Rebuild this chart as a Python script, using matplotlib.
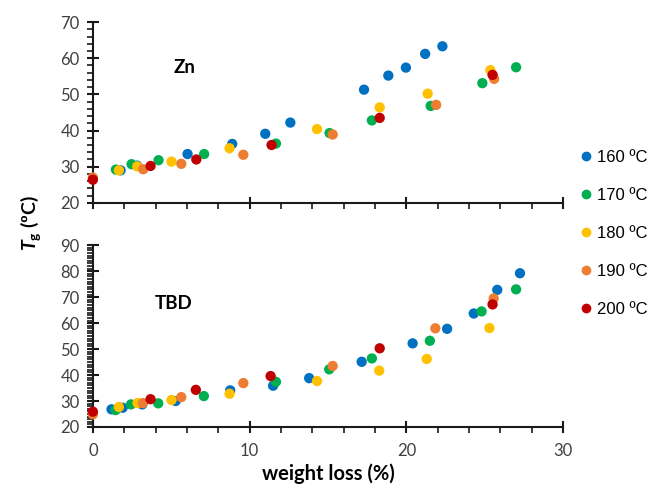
import numpy as np
import matplotlib.pyplot as plt
from matplotlib.ticker import MultipleLocator
from matplotlib.lines import Line2D

plt.rcParams['font.family'] = ['Lato', 'DejaVu Sans']
plt.rcParams['mathtext.fontset'] = 'custom'
plt.rcParams['mathtext.it'] = 'Lato:italic:bold'
plt.rcParams['mathtext.bf'] = 'Lato:bold'
plt.rcParams['mathtext.rm'] = 'Lato'

labels = ['160 ºC', '170 ºC', '180 ºC', '190 ºC', '200 ºC']
colors = ['#0070C0', '#00B050', '#FFC000', '#ED7D31', '#C00000']

# Zn panel: weight loss (%) and Tg (ºC) per temperature
zn_x = [
    [1.77, 2.83, 6.04, 8.89, 11.0, 12.6, 17.3, 18.85, 19.97, 21.2, 22.3],
    [1.47, 2.47, 4.19, 7.1, 11.68, 15.1, 17.8, 21.55, 24.85, 27.0],
    [1.66, 2.83, 5.02, 8.72, 14.3, 18.3, 21.36, 25.36],
    [0.0, 3.21, 5.64, 9.6, 15.3, 21.9, 25.6],
    [0.0, 3.68, 6.6, 11.4, 18.3, 25.5],
]
zn_y = [
    [29.0, 30.3, 33.5, 36.3, 39.1, 42.2, 51.3, 55.2, 57.4, 61.2, 63.3],
    [29.2, 30.7, 31.8, 33.5, 36.4, 39.3, 42.8, 46.8, 53.1, 57.5],
    [29.0, 30.1, 31.4, 35.1, 40.4, 46.4, 50.2, 56.7],
    [27.0, 29.3, 30.8, 33.3, 38.9, 47.1, 54.3],
    [26.4, 30.2, 32.0, 36.0, 43.5, 55.4],
]

# TBD panel
tbd_x = [
    [1.19, 1.9, 3.15, 5.28, 8.76, 11.5, 13.8, 17.15, 20.4, 22.6, 24.3, 25.8, 27.25],
    [1.45, 2.43, 4.17, 7.08, 11.68, 15.08, 17.8, 21.5, 24.8, 27.0],
    [1.66, 2.85, 5.02, 8.72, 14.3, 18.27, 21.3, 25.3],
    [0.0, 3.19, 5.64, 9.6, 15.3, 21.85, 25.57],
    [0.0, 3.68, 6.57, 11.34, 18.3, 25.5],
]
tbd_y = [
    [26.8, 27.4, 28.7, 30.0, 34.1, 35.9, 38.8, 45.1, 52.2, 57.8, 63.7, 72.8, 79.2],
    [26.5, 28.7, 29.1, 31.9, 37.4, 42.2, 46.4, 53.2, 64.5, 73.0],
    [27.7, 29.2, 30.4, 32.8, 37.7, 41.7, 46.2, 58.1],
    [24.9, 29.2, 31.5, 36.9, 43.5, 58.0, 69.5],
    [25.9, 30.7, 34.3, 39.6, 50.3, 67.2],
]

fig = plt.figure(figsize=(6.54, 4.9), dpi=100)
ax1 = fig.add_axes([0.142, 0.586, 0.719, 0.369])
ax2 = fig.add_axes([0.142, 0.1286, 0.719, 0.371])

for ax, xs, ys, ylim, ymin in [(ax1, zn_x, zn_y, (20, 70), 2), (ax2, tbd_x, tbd_y, (20, 90), 1)]:
    for i in range(5):
        ax.scatter(xs[i], ys[i], s=55, color=colors[i], edgecolors='none', zorder=3, clip_on=False)
    ax.set_xlim(0, 30)
    ax.set_ylim(*ylim)
    ax.xaxis.set_major_locator(MultipleLocator(10))
    ax.xaxis.set_minor_locator(MultipleLocator(2))
    ax.yaxis.set_major_locator(MultipleLocator(10))
    ax.yaxis.set_minor_locator(MultipleLocator(ymin))
    ax.spines['top'].set_visible(False)
    ax.spines['right'].set_visible(False)
    for s in ['left', 'bottom']:
        ax.spines[s].set_linewidth(1.5)
        ax.spines[s].set_color('#1a1a1a')
    ax.tick_params(which='major', direction='inout', length=9, width=1.5, color='#1a1a1a',
                   labelsize=12, labelcolor='#404040')
    ax.tick_params(which='minor', direction='out', length=4, width=1.2, color='#1a1a1a')
    ax.tick_params(axis='y', which='major', pad=5)

ax1.tick_params(axis='x', which='both', labelbottom=False)
ax2.tick_params(axis='x', which='major', pad=7)

ax1.text(0.194, 0.746, 'Zn', transform=ax1.transAxes, fontsize=13.5, fontweight='bold',
         ha='center', va='center')
ax2.text(0.172, 0.681, 'TBD', transform=ax2.transAxes, fontsize=13.5, fontweight='bold',
         ha='center', va='center')

ax2.set_xlabel('weight loss (%)', fontsize=14.5, fontweight='bold', labelpad=3)
fig.text(0.046, 0.545, r'$T_\mathbf{g}$ (ºC)', rotation=90, fontsize=14, fontweight='bold',
         ha='center', va='center')

handles = [Line2D([], [], marker='o', linestyle='none', color=c, markersize=6) for c in colors]
fig.legend(handles, labels, loc='upper left', bbox_to_anchor=(0.871, 0.707), frameon=False,
           prop={'family': 'Liberation Sans', 'size': 12}, labelspacing=1.37,
           handletextpad=0.05, handlelength=1.2, borderaxespad=0)

fig.savefig('out.png', dpi=100)
